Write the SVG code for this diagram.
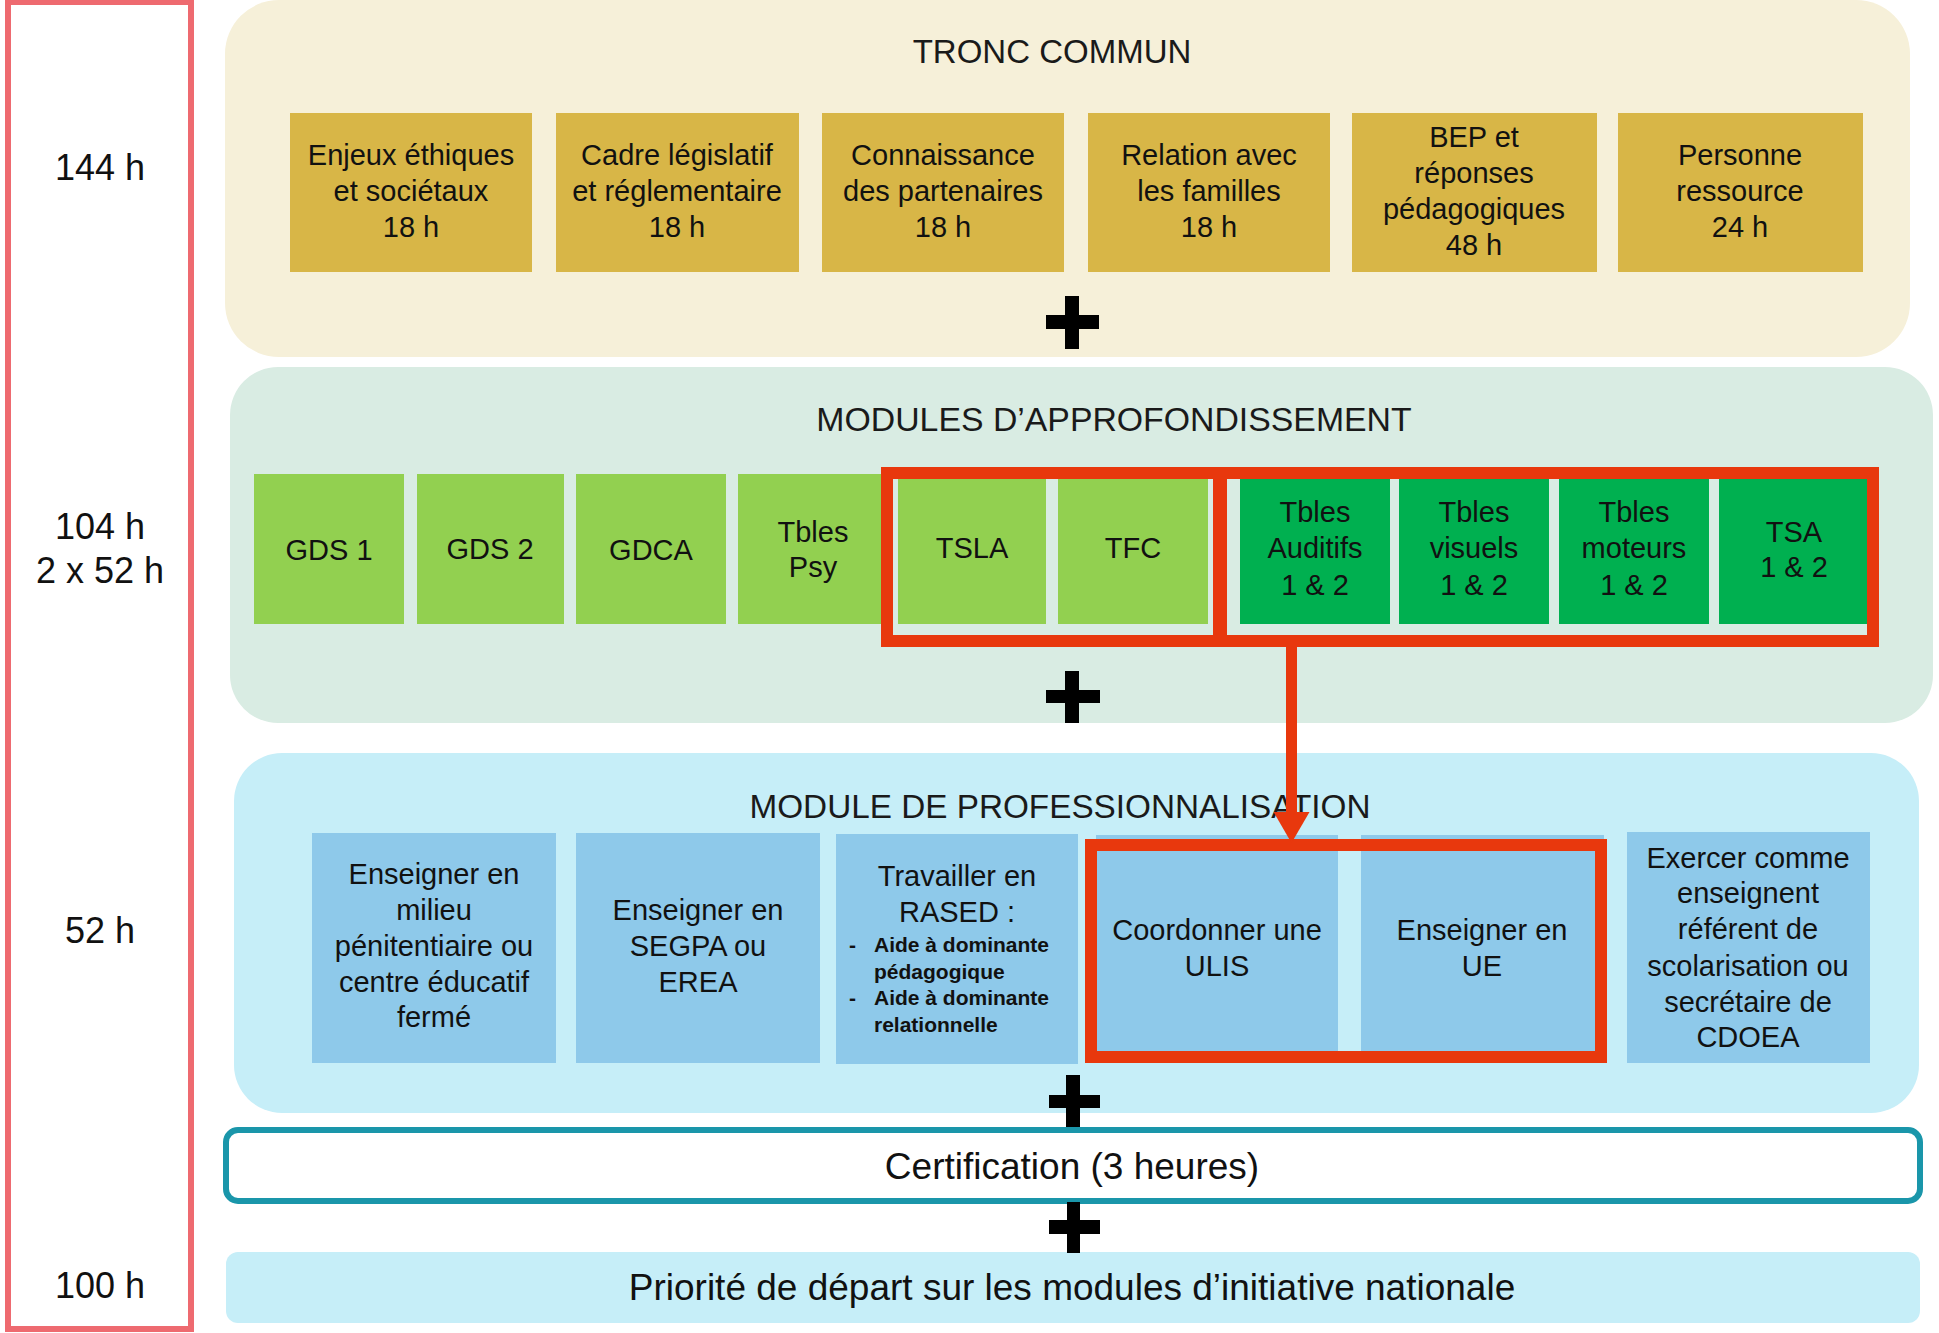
<svg xmlns="http://www.w3.org/2000/svg" width="1939" height="1333" viewBox="0 0 1939 1333">
<defs>
<style>
text{font-family:"Liberation Sans",Arial,sans-serif;fill:#111;}
.lbl{font-size:36px;text-anchor:middle;}
.ttl{font-size:33px;text-anchor:middle;fill:#1a1a1a;}
.bx{font-size:29px;text-anchor:middle;}
.sm{font-size:21px;font-weight:bold;}
.big{font-size:37px;text-anchor:middle;}
.gold{fill:#D8B647;}
.lg{fill:#92D050;}
.dg{fill:#00B050;}
.blue{fill:#8EC9EA;}
.hl{fill:none;stroke:#E8380D;stroke-width:12;}
.plus{fill:#000;}
</style>
<marker id="ah" viewBox="0 0 31 36" refX="2" refY="18" markerWidth="31" markerHeight="36" markerUnits="userSpaceOnUse" orient="auto">
<path d="M0,0 L31,18 L0,36 z" fill="#E8380D"/>
</marker>
</defs>
<rect width="1939" height="1333" fill="#fff"/>

<g id="hours-column">
<rect x="8" y="2" width="183" height="1327" fill="#fff" stroke="#EE6A70" stroke-width="6"/>
<text class="lbl" x="100" y="180">144 h</text>
<text class="lbl" x="100" y="539">104 h</text>
<text class="lbl" x="100" y="583">2 x 52 h</text>
<text class="lbl" x="100" y="943">52 h</text>
<text class="lbl" x="100" y="1298">100 h</text>
</g>

<g id="tronc-commun">
<rect x="225" y="0" width="1685" height="357" rx="54" fill="#F6F0D9"/>
<text class="ttl" x="1052" y="63">TRONC COMMUN</text>
<g id="tc-enjeux"><rect class="gold" x="290" y="113" width="242" height="159"/>
<text class="bx" x="411" y="165">Enjeux éthiques</text><text class="bx" x="411" y="201">et sociétaux</text><text class="bx" x="411" y="237">18 h</text></g>
<g id="tc-cadre"><rect class="gold" x="556" y="113" width="243" height="159"/>
<text class="bx" x="677" y="165">Cadre législatif</text><text class="bx" x="677" y="201">et réglementaire</text><text class="bx" x="677" y="237">18 h</text></g>
<g id="tc-connaissance"><rect class="gold" x="822" y="113" width="242" height="159"/>
<text class="bx" x="943" y="165">Connaissance</text><text class="bx" x="943" y="201">des partenaires</text><text class="bx" x="943" y="237">18 h</text></g>
<g id="tc-relation"><rect class="gold" x="1088" y="113" width="242" height="159"/>
<text class="bx" x="1209" y="165">Relation avec</text><text class="bx" x="1209" y="201">les familles</text><text class="bx" x="1209" y="237">18 h</text></g>
<g id="tc-bep"><rect class="gold" x="1352" y="113" width="245" height="159"/>
<text class="bx" x="1474" y="147">BEP et</text><text class="bx" x="1474" y="183">réponses</text><text class="bx" x="1474" y="219">pédagogiques</text><text class="bx" x="1474" y="255">48 h</text></g>
<g id="tc-personne"><rect class="gold" x="1618" y="113" width="245" height="159"/>
<text class="bx" x="1740" y="165">Personne</text><text class="bx" x="1740" y="201">ressource</text><text class="bx" x="1740" y="237">24 h</text></g>
</g>

<g id="approfondissement">
<rect x="230" y="367" width="1703" height="356" rx="48" fill="#D9ECE3"/>
<text class="ttl" x="1114" y="431" style="font-size:33.8px">MODULES D’APPROFONDISSEMENT</text>
<g id="ma-gds1"><rect class="lg" x="254" y="474" width="150" height="150"/><text class="bx" x="329" y="560">GDS 1</text></g>
<g id="ma-gds2"><rect class="lg" x="417" y="474" width="147" height="150"/><text class="bx" x="490" y="559">GDS 2</text></g>
<g id="ma-gdca"><rect class="lg" x="576" y="474" width="150" height="150"/><text class="bx" x="651" y="560">GDCA</text></g>
<g id="ma-psy"><rect class="lg" x="738" y="474" width="150" height="150"/><text class="bx" x="813" y="542">Tbles</text><text class="bx" x="813" y="577">Psy</text></g>
<g id="ma-tsla"><rect class="lg" x="898" y="474" width="148" height="150"/><text class="bx" x="972" y="558">TSLA</text></g>
<g id="ma-tfc"><rect class="lg" x="1058" y="474" width="150" height="150"/><text class="bx" x="1133" y="558">TFC</text></g>
<g id="ma-auditifs"><rect class="dg" x="1240" y="474" width="150" height="150"/><text class="bx" x="1315" y="522">Tbles</text><text class="bx" x="1315" y="558">Auditifs</text><text class="bx" x="1315" y="595">1 &amp; 2</text></g>
<g id="ma-visuels"><rect class="dg" x="1399" y="474" width="150" height="150"/><text class="bx" x="1474" y="522">Tbles</text><text class="bx" x="1474" y="558">visuels</text><text class="bx" x="1474" y="595">1 &amp; 2</text></g>
<g id="ma-moteurs"><rect class="dg" x="1559" y="474" width="150" height="150"/><text class="bx" x="1634" y="522">Tbles</text><text class="bx" x="1634" y="558">moteurs</text><text class="bx" x="1634" y="595">1 &amp; 2</text></g>
<g id="ma-tsa"><rect class="dg" x="1719" y="474" width="150" height="150"/><text class="bx" x="1794" y="542">TSA</text><text class="bx" x="1794" y="577">1 &amp; 2</text></g>
</g>

<g id="professionnalisation">
<rect x="234" y="753" width="1685" height="360" rx="48" fill="#C6EEF8"/>
<text class="ttl" x="1060" y="818" style="font-size:33.3px">MODULE DE PROFESSIONNALISATION</text>
<g id="mp-penitentiaire"><rect class="blue" x="312" y="833" width="244" height="230"/>
<text class="bx" x="434" y="884">Enseigner en</text><text class="bx" x="434" y="920">milieu</text><text class="bx" x="434" y="956">pénitentiaire ou</text><text class="bx" x="434" y="992">centre éducatif</text><text class="bx" x="434" y="1027">fermé</text></g>
<g id="mp-segpa"><rect class="blue" x="576" y="833" width="244" height="230"/>
<text class="bx" x="698" y="920">Enseigner en</text><text class="bx" x="698" y="956">SEGPA ou</text><text class="bx" x="698" y="992">EREA</text></g>
<g id="mp-rased"><rect class="blue" x="836" y="834" width="242" height="230"/>
<text class="bx" x="957" y="886">Travailler en</text><text class="bx" x="957" y="922">RASED :</text>
<text class="sm" x="849" y="952">-</text><text class="sm" x="874" y="952">Aide à dominante</text>
<text class="sm" x="874" y="979">pédagogique</text>
<text class="sm" x="849" y="1005">-</text><text class="sm" x="874" y="1005">Aide à dominante</text>
<text class="sm" x="874" y="1032">relationnelle</text></g>
<g id="mp-ulis"><rect class="blue" x="1096" y="835" width="242" height="228"/>
<text class="bx" x="1217" y="940">Coordonner une</text><text class="bx" x="1217" y="976">ULIS</text></g>
<g id="mp-ue"><rect class="blue" x="1361" y="835" width="243" height="228"/>
<text class="bx" x="1482" y="940">Enseigner en</text><text class="bx" x="1482" y="976">UE</text></g>
<g id="mp-referent"><rect class="blue" x="1627" y="832" width="243" height="231"/>
<text class="bx" x="1748" y="868">Exercer comme</text><text class="bx" x="1748" y="903">enseignent</text><text class="bx" x="1748" y="939">référent de</text><text class="bx" x="1748" y="976">scolarisation ou</text><text class="bx" x="1748" y="1012">secrétaire de</text><text class="bx" x="1748" y="1047">CDOEA</text></g>
</g>

<g id="certification">
<rect x="226" y="1130" width="1694" height="71" rx="12" fill="#fff" stroke="#1A96AA" stroke-width="6"/>
<text class="big" x="1072" y="1179">Certification (3 heures)</text>
</g>

<g id="priorite">
<rect x="226" y="1252" width="1694" height="71" rx="12" fill="#C6EEF8"/>
<text class="big" x="1072" y="1300">Priorité de départ sur les modules d’initiative nationale</text>
</g>

<g id="highlights">
<rect id="hl-tsla-tfc" class="hl" x="887" y="473" width="332" height="168"/>
<rect id="hl-tbles" class="hl" x="1221" y="473" width="652" height="168"/>
<rect id="hl-ulis-ue" class="hl" x="1091" y="845" width="510" height="212"/>
</g>

<g id="plus-signs">
<path class="plus" d="M1065,296 H1079 V315 H1099 V329 H1079 V349 H1065 V329 H1046 V315 H1065 Z"/>
<path class="plus" d="M1065,671 H1079 V690 H1100 V703 H1079 V723 H1065 V703 H1046 V690 H1065 Z"/>
<path class="plus" d="M1066,1075 H1080 V1095 H1100 V1108 H1080 V1127 H1066 V1108 H1049 V1095 H1066 Z"/>
<path class="plus" d="M1067,1202 H1080 V1220 H1100 V1234 H1080 V1253 H1067 V1234 H1049 V1220 H1067 Z"/>
</g>

<g id="connectors">
<line x1="1291.5" y1="641" x2="1291.5" y2="814" stroke="#E8380D" stroke-width="11" marker-end="url(#ah)"/>
</g>
</svg>
